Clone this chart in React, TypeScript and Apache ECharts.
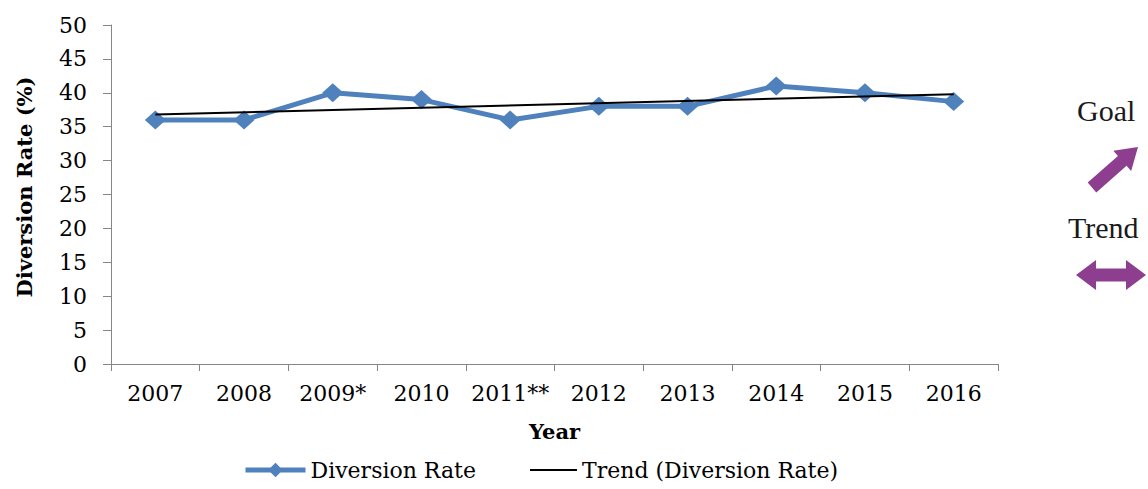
import React, { useEffect, useRef } from "react";
import * as echarts from "echarts";

const years = ["2007", "2008", "2009*", "2010", "2011**", "2012", "2013", "2014", "2015", "2016"];
const diversionRate = [36, 36, 40, 39, 36, 38, 38, 41, 40, 38.7];
const trendLine = [36.8, null, null, null, null, null, null, null, null, 39.8];
const yTicks = { min: 0, max: 50, interval: 5 };

const FONT = "'DejaVu Serif', serif";
const PURPLE = "#8D3E8E";

function arrowPoints(tail: number[], tip: number[], shaftHalf: number, headHalf: number, headLen: number) {
  const dx = tip[0] - tail[0];
  const dy = tip[1] - tail[1];
  const len = Math.hypot(dx, dy);
  const ux = dx / len, uy = dy / len;
  const nx = -uy, ny = ux;
  const bx = tip[0] - ux * headLen, by = tip[1] - uy * headLen;
  return [
    [tail[0] + nx * shaftHalf, tail[1] + ny * shaftHalf],
    [bx + nx * shaftHalf, by + ny * shaftHalf],
    [bx + nx * headHalf, by + ny * headHalf],
    [tip[0], tip[1]],
    [bx - nx * headHalf, by - ny * headHalf],
    [bx - nx * shaftHalf, by - ny * shaftHalf],
    [tail[0] - nx * shaftHalf, tail[1] - ny * shaftHalf],
  ];
}

function doubleArrowPoints(x0: number, x1: number, cy: number, shaftHalf: number, headHalf: number, headLen: number) {
  return [
    [x0, cy],
    [x0 + headLen, cy - headHalf],
    [x0 + headLen, cy - shaftHalf],
    [x1 - headLen, cy - shaftHalf],
    [x1 - headLen, cy - headHalf],
    [x1, cy],
    [x1 - headLen, cy + headHalf],
    [x1 - headLen, cy + shaftHalf],
    [x0 + headLen, cy + shaftHalf],
    [x0 + headLen, cy + headHalf],
  ];
}

export default function App() {
  const ref = useRef<HTMLDivElement>(null);

  useEffect(() => {
    document.body.style.margin = "0";
    if (!ref.current) return;
    const chart = echarts.init(ref.current, null, { renderer: "svg" });
    const axisColor = "#868686";
    chart.setOption({
      animation: false,
      backgroundColor: "#ffffff",
      textStyle: { fontFamily: FONT, color: "#000" },
      grid: { left: 111, right: 150, top: 25, bottom: 125, containLabel: false },
      legend: [
        {
          data: [{ name: "Diversion Rate" }],
          left: 238,
          top: 454,
          itemWidth: 60,
          itemHeight: 18,
          lineStyle: { width: 5 },
          textStyle: { fontFamily: FONT, fontSize: 22, color: "#000" },
        },
        {
          data: [{ name: "Trend (Diversion Rate)", icon: "rect" }],
          left: 525,
          top: 454,
          itemWidth: 47,
          itemHeight: 2,
          textStyle: { fontFamily: FONT, fontSize: 22, color: "#000" },
        },
      ],
      xAxis: {
        type: "category",
        data: years,
        boundaryGap: true,
        name: "Year",
        nameLocation: "middle",
        nameGap: 57,
        nameTextStyle: { fontFamily: FONT, fontSize: 21, fontWeight: "bold", color: "#000" },
        axisLine: { show: true, lineStyle: { color: axisColor, width: 1 } },
        axisTick: { show: true, length: 7, lineStyle: { color: axisColor } },
        axisLabel: { fontFamily: FONT, fontSize: 22, color: "#000", margin: 18, interval: 0 },
        splitLine: { show: false },
      },
      yAxis: {
        type: "value",
        min: yTicks.min,
        max: yTicks.max,
        interval: yTicks.interval,
        name: "Diversion Rate (%)",
        nameLocation: "middle",
        nameGap: 76,
        nameTextStyle: {
          fontFamily: FONT,
          fontSize: 21,
          fontWeight: "bold",
          color: "#000",
          padding: [0, 0, 0, 15],
        },
        axisLine: { show: true, lineStyle: { color: axisColor, width: 1 } },
        axisTick: { show: true, length: 8, lineStyle: { color: axisColor } },
        axisLabel: { fontFamily: FONT, fontSize: 22, color: "#000", margin: 24 },
        splitLine: { show: false },
      },
      series: [
        {
          name: "Diversion Rate",
          type: "line",
          data: diversionRate,
          symbol: "diamond",
          symbolSize: [21, 19],
          lineStyle: { color: "#4F81BD", width: 5 },
          itemStyle: { color: "#4F81BD" },
          z: 2,
        },
        {
          name: "Trend (Diversion Rate)",
          type: "line",
          data: trendLine,
          connectNulls: true,
          symbol: "none",
          showSymbol: false,
          lineStyle: { color: "#000", width: 2 },
          itemStyle: { color: "#000" },
          z: 3,
        },
      ],
      graphic: [
        {
          type: "text",
          left: 1077,
          top: 95,
          style: { text: "Goal", font: "30px 'Liberation Serif', serif", fill: "#1a1a1a" },
        },
        {
          type: "polygon",
          shape: { points: arrowPoints([1092, 187.5], [1138, 147], 6.5, 13.5, 21) },
          style: { fill: PURPLE },
        },
        {
          type: "text",
          left: 1068,
          top: 212,
          style: { text: "Trend", font: "30px 'Liberation Serif', serif", fill: "#1a1a1a" },
        },
        {
          type: "polygon",
          shape: { points: doubleArrowPoints(1076, 1146, 275, 6.5, 15, 20) },
          style: { fill: PURPLE },
        },
      ],
    });
    return () => chart.dispose();
  }, []);

  return <div ref={ref} style={{ width: 1148, height: 489 }} />;
}
